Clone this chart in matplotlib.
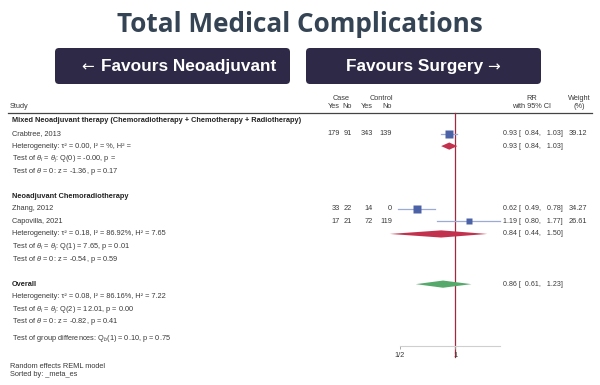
"""
Forest plot: total medical complications, neoadjuvant vs surgery.
"""

import matplotlib
matplotlib.use("Agg")
import matplotlib.pyplot as plt
from matplotlib.patches import FancyBboxPatch, Polygon

plt.rcParams["font.family"] = ["Liberation Sans", "DejaVu Sans"]
plt.rcParams["mathtext.fontset"] = "custom"
plt.rcParams["mathtext.rm"] = "Liberation Sans"
plt.rcParams["mathtext.it"] = "Liberation Sans:italic"

# ---- data ----
title = "Total Medical Complications"
left_label = "Favours Neoadjuvant"
right_label = "Favours Surgery"

group_names = [
    "Mixed Neoadjuvant therapy (Chemoradiotherapy + Chemotherapy + Radiotherapy)",
    "Neoadjuvant Chemoradiotherapy",
]
studies = ["Crabtree, 2013", "Zhang, 2012", "Capovilla, 2021"]
study_group = [0, 1, 1]
case_yes = [179, 33, 17]
case_no = [91, 22, 21]
ctrl_yes = [343, 14, 72]
ctrl_no = [139, 0, 119]
rr = [0.93, 0.62, 1.19]
rr_lo = [0.84, 0.49, 0.80]
rr_hi = [1.03, 0.78, 1.77]
weights = [39.12, 34.27, 26.61]

group_rr = [0.93, 0.84]
group_lo = [0.84, 0.44]
group_hi = [1.03, 1.50]
group_stats = [
    ["Heterogeneity: \u03c4\u00b2 = 0.00, I\u00b2 = %, H\u00b2 =",
     r"Test of $\theta_i$ = $\theta_j$: Q(0) = -0.00, p =",
     r"Test of $\theta$ = 0: z = -1.36, p = 0.17"],
    ["Heterogeneity: \u03c4\u00b2 = 0.18, I\u00b2 = 86.92%, H\u00b2 = 7.65",
     r"Test of $\theta_i$ = $\theta_j$: Q(1) = 7.65, p = 0.01",
     r"Test of $\theta$ = 0: z = -0.54, p = 0.59"],
]

overall_rr, overall_lo, overall_hi = 0.86, 0.61, 1.23
overall_stats = [
    "Heterogeneity: \u03c4\u00b2 = 0.08, I\u00b2 = 86.16%, H\u00b2 = 7.22",
    r"Test of $\theta_i$ = $\theta_j$: Q(2) = 12.01, p = 0.00",
    r"Test of $\theta$ = 0: z = -0.82, p = 0.41",
]
group_diff = r"Test of group differences: Q$_b$(1) = 0.10, p = 0.75"
footer = ["Random effects REML model", "Sorted by: _meta_es"]

tick_vals = [0.5, 1]
tick_labels = ["1/2", "1"]

# ---- layout (pixels) ----
W, H = 600, 385
row0, step = 121, 12.55
hdr_line = 113
axis_y = 346
x_one, px_per_doubling = 455, 55
fx_left, fx_right = 380, 520

TXT = "#3a3a3a"
FS = 5.3
SQUARE = "#4c62a6"
CI_LINE = "#9aabd6"
RED = "#c2314d"
GREEN = "#55a96a"
REF = "#a3283f"
BTN = "#2e2946"

fig = plt.figure(figsize=(W / 100, H / 100), dpi=100)
fig.patch.set_facecolor("white")

tax = fig.add_axes([0, 0, 1, 1])
tax.set_xlim(0, W)
tax.set_ylim(H, 0)
tax.axis("off")

# title and buttons
tax.text(W / 2, 24.5, title, ha="center", va="center", fontsize=18.8,
         fontweight="bold", color="#354454", family=["Open Sans", "DejaVu Sans"])
renderer = fig.canvas.get_renderer()
for (x0, x1), label, arrow in [((55, 290), left_label, "\u2190"),
                               ((306, 541), right_label, "\u2192")]:
    tax.add_patch(FancyBboxPatch((x0 + 4, 48 + 4), x1 - x0 - 8, 36 - 8,
                                 boxstyle="round,pad=4", fc=BTN, ec="none"))
    shift = 16 if arrow == "\u2190" else -9
    t = tax.text((x0 + x1) / 2 + shift, 66.5, label, ha="center", va="center",
                 fontsize=12.4, fontweight="bold", color="white")
    bb = t.get_window_extent(renderer).transformed(tax.transData.inverted())
    if arrow == "\u2190":
        tax.text(min(bb.x0, bb.x1) - 7, 67, arrow, ha="right", va="center",
                 fontsize=11, color="white", family=["DejaVu Sans"])
    else:
        tax.text(max(bb.x0, bb.x1) + 4, 67, arrow, ha="left", va="center",
                 fontsize=11, color="white", family=["DejaVu Sans"])

# column headers
col_case_yes, col_case_no, col_ctrl_yes, col_ctrl_no = 340, 352, 373, 392
col_rr, col_w = 503, 587
tax.text(10, 107, "Study", fontsize=FS, color=TXT, va="center")
tax.text(341, 98, "Case", fontsize=FS, color=TXT, va="center", ha="center")
tax.text(381, 98, "Control", fontsize=FS, color=TXT, va="center", ha="center")
for x, s in [(col_case_yes, "Yes"), (col_case_no, "No"),
             (col_ctrl_yes, "Yes"), (col_ctrl_no, "No")]:
    tax.text(x, 107, s, fontsize=FS, color=TXT, va="center", ha="right")
tax.text(532, 98, "RR", fontsize=FS, color=TXT, va="center", ha="center")
tax.text(532, 107, "with 95% CI", fontsize=FS, color=TXT, va="center", ha="center")
tax.text(579, 98, "Weight", fontsize=FS, color=TXT, va="center", ha="center")
tax.text(579, 107, "(%)", fontsize=FS, color=TXT, va="center", ha="center")
tax.plot([8, 592], [hdr_line, hdr_line], color="#444444", lw=0.9)

# forest axes, sharing pixel y with the text axes
fax = fig.add_axes([fx_left / W, (H - axis_y) / H,
                    (fx_right - fx_left) / W, (axis_y - hdr_line) / H])
fax.set_xscale("log")
fax.set_xlim(2 ** ((fx_left - x_one) / px_per_doubling),
             2 ** ((fx_right - x_one) / px_per_doubling))
fax.set_ylim(axis_y, hdr_line)
fax.patch.set_alpha(0)
for side in ["top", "left", "right"]:
    fax.spines[side].set_visible(False)
fax.spines["bottom"].set_color("#cfcfcf")
fax.spines["bottom"].set_linewidth(0.8)
fax.spines["bottom"].set_bounds(min(tick_vals), max(rr_hi))
fax.set_yticks([])
fax.set_xticks(tick_vals)
fax.set_xticklabels(tick_labels)
fax.xaxis.set_minor_locator(plt.NullLocator())
fax.tick_params(axis="x", length=2, width=0.6, color="#999999",
                labelsize=FS, labelcolor=TXT, pad=2)
fax.axvline(1, ymin=-0.047, ymax=1, color=REF, lw=0.9, clip_on=False, zorder=1)


def diamond(ax, est, lo, hi, y, color, half=3.6):
    ax.add_patch(Polygon([(lo, y), (est, y - half), (hi, y), (est, y + half)],
                         closed=True, fc=color, ec="none", zorder=3,
                         clip_on=False))


def ci_text(y, est, lo, hi):
    tax.text(col_rr, y, f"{est:.2f} [ {lo:5.2f},  {hi:5.2f}]",
             fontsize=5.1, color=TXT, va="center", ha="left")


row = 0
for g, name in enumerate(group_names):
    y = row0 + row * step
    tax.text(12, y, name, fontsize=FS, color="#222222", va="center",
             fontweight="bold")
    row += 1
    for i, s in enumerate(studies):
        if study_group[i] != g:
            continue
        y = row0 + row * step
        tax.text(12, y, s, fontsize=FS, color=TXT, va="center")
        for x, v in [(col_case_yes, case_yes[i]), (col_case_no, case_no[i]),
                     (col_ctrl_yes, ctrl_yes[i]), (col_ctrl_no, ctrl_no[i])]:
            tax.text(x, y, str(v), fontsize=FS, color=TXT, va="center",
                     ha="right")
        fax.plot([rr_lo[i], rr_hi[i]], [y, y], color=CI_LINE, lw=0.9,
                 clip_on=False, zorder=2)
        fax.plot(rr[i], y, marker="s", ms=0.96 * weights[i] ** 0.5,
                 color=SQUARE, mec="none", clip_on=False, zorder=3)
        ci_text(y, rr[i], rr_lo[i], rr_hi[i])
        tax.text(col_w, y, f"{weights[i]:.2f}", fontsize=FS, color=TXT,
                 va="center", ha="right")
        row += 1
    for k, line in enumerate(group_stats[g]):
        y = row0 + row * step
        tax.text(12, y, line, fontsize=FS, color=TXT, va="center")
        if k == 0:
            diamond(fax, group_rr[g], group_lo[g], group_hi[g], y, RED)
            ci_text(y, group_rr[g], group_lo[g], group_hi[g])
        row += 1
    row += 1

y = row0 + row * step
tax.text(12, y, "Overall", fontsize=FS, color="#222222", va="center",
         fontweight="bold")
diamond(fax, overall_rr, overall_lo, overall_hi, y, GREEN)
ci_text(y, overall_rr, overall_lo, overall_hi)
row += 1
for line in overall_stats:
    y = row0 + row * step
    tax.text(12, y, line, fontsize=FS, color=TXT, va="center")
    row += 1
tax.text(12, row0 + (row + 0.35) * step, group_diff, fontsize=FS,
         color=TXT, va="center")

tax.text(10, 367, footer[0], fontsize=FS, color=TXT, va="center")
tax.text(10, 374.5, footer[1], fontsize=FS, color=TXT, va="center")

fig.savefig("out.png", dpi=100, facecolor="white")
